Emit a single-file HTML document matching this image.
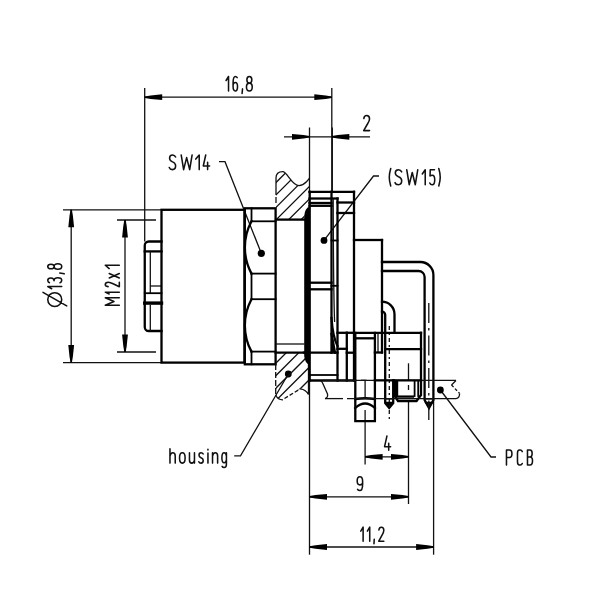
<!DOCTYPE html>
<html><head><meta charset="utf-8"><style>
html,body{margin:0;padding:0;background:#fff;}
svg{display:block;}
.t{stroke:#111;stroke-width:1.3;fill:none;}
.m{stroke:#000;stroke-width:1.8;fill:none;stroke-linecap:square;}
.k{stroke:#000;stroke-width:2.3;fill:none;stroke-linecap:square;}
.a{fill:#000;stroke:none;}
.tp{stroke:#111;stroke-width:1.55;fill:none;stroke-linecap:round;stroke-linejoin:round;}
</style></head><body>
<svg width="600" height="600" viewBox="0 0 600 600">
<rect width="600" height="600" fill="#fff"/>
<line class="t" x1="144.7" y1="88" x2="144.7" y2="241.5" />
<line class="t" x1="331.8" y1="88" x2="331.8" y2="192" />
<line class="t" x1="332.3" y1="127.5" x2="332.3" y2="192" />
<line class="t" x1="144.7" y1="97.2" x2="331.8" y2="97.2" />
<polygon class="a" points="144.70,97.90 150.70,98.90 162.20,100.10 162.20,94.30 150.70,95.50 144.70,96.50"/>
<polygon class="a" points="331.80,96.50 325.80,95.50 314.30,94.30 314.30,100.10 325.80,98.90 331.80,97.90"/>
<path class="tp" d="M 226.08,80.52 L 228.53,76.48 L 228.53,90.92 M 237.19,77.63 C 236.75,76.91 236.08,76.48 235.41,76.48 C 233.85,76.48 233.08,78.79 233.08,83.12 L 233.08,86.30 C 233.08,89.48 233.97,90.92 235.30,90.92 C 236.75,90.92 237.53,89.48 237.53,86.45 C 237.53,83.70 236.75,82.40 235.30,82.40 C 234.08,82.40 233.30,83.41 233.08,84.86 M 242.53,88.90 L 242.08,93.53 M 249.35,83.12 C 247.71,83.12 246.89,82.11 246.89,79.80 C 246.89,77.63 247.84,76.48 249.35,76.48 C 250.86,76.48 251.81,77.63 251.81,79.80 C 251.81,82.11 250.99,83.12 249.35,83.12 C 247.57,83.12 246.47,84.42 246.47,86.88 C 246.47,89.62 247.57,90.92 249.35,90.92 C 251.13,90.92 252.22,89.62 252.22,86.88 C 252.22,84.42 251.13,83.12 249.35,83.12"/>
<line class="t" x1="309.5" y1="127.5" x2="309.5" y2="192" />
<line class="t" x1="284" y1="136.8" x2="370" y2="136.8" />
<polygon class="a" points="309.50,136.10 303.50,135.10 292.00,133.90 292.00,139.70 303.50,138.50 309.50,137.50"/>
<polygon class="a" points="331.80,137.50 337.80,138.50 349.30,139.70 349.30,133.90 337.80,135.10 331.80,136.10"/>
<path class="tp" d="M 363.82,118.59 C 364.11,116.48 365.43,115.58 366.60,115.58 C 368.36,115.58 369.53,116.78 369.53,118.89 C 369.53,120.69 368.65,122.20 367.48,124.00 L 363.67,130.62 L 369.53,130.62"/>
<line class="t" x1="63" y1="209.8" x2="161.5" y2="209.8" />
<line class="t" x1="63" y1="362.6" x2="161.5" y2="362.6" />
<line class="t" x1="71.2" y1="209.8" x2="71.2" y2="362.6" />
<polygon class="a" points="70.50,209.80 69.50,215.80 68.30,227.30 74.10,227.30 72.90,215.80 71.90,209.80"/>
<polygon class="a" points="71.90,362.60 72.90,356.60 74.10,345.10 68.30,345.10 69.50,356.60 70.50,362.60"/>
<path class="tp" transform="rotate(-90)" d="M -299.60,47.77 C -295.68,47.77 -292.67,50.84 -292.67,54.75 C -292.67,58.66 -295.68,61.73 -299.60,61.73 C -303.52,61.73 -306.53,58.66 -306.53,54.75 C -306.53,50.84 -303.52,47.77 -299.60,47.77 Z M -288.73,51.68 L -286.57,47.77 L -286.57,61.73 M -282.73,49.45 C -282.23,48.33 -281.36,47.77 -280.25,47.77 C -278.76,47.77 -277.90,48.89 -277.90,50.84 C -277.90,52.94 -279.01,54.05 -280.75,54.05 C -278.76,54.05 -277.77,55.45 -277.77,57.82 C -277.77,60.33 -278.89,61.73 -280.37,61.73 C -281.61,61.73 -282.35,61.03 -282.73,60.05 M -273.07,59.77 L -273.83,64.24 M -266.50,54.19 C -268.06,54.19 -268.84,53.22 -268.84,50.98 C -268.84,48.89 -267.93,47.77 -266.50,47.77 C -265.07,47.77 -264.16,48.89 -264.16,50.98 C -264.16,53.22 -264.94,54.19 -266.50,54.19 C -268.19,54.19 -269.23,55.45 -269.23,57.82 C -269.23,60.47 -268.19,61.73 -266.50,61.73 C -264.81,61.73 -263.77,60.47 -263.77,57.82 C -263.77,55.45 -264.81,54.19 -266.50,54.19 M-305.9,66.7 L-292.3,43"/>
<line class="t" x1="117" y1="220" x2="156" y2="220" />
<line class="t" x1="117" y1="352" x2="156" y2="352" />
<line class="t" x1="125" y1="220" x2="125" y2="352" />
<polygon class="a" points="124.30,220.00 123.30,226.00 122.10,237.50 127.90,237.50 126.70,226.00 125.70,220.00"/>
<polygon class="a" points="125.70,352.00 126.70,346.00 127.90,334.50 122.10,334.50 123.30,346.00 124.30,352.00"/>
<path class="tp" transform="rotate(-90)" d="M -305.33,119.32 L -305.33,105.28 L -301.55,113.99 L -297.77,105.28 L -297.77,119.32 M -294.03,109.21 L -292.17,105.28 L -292.17,119.32 M -286.61,108.09 C -286.38,106.12 -285.36,105.28 -284.45,105.28 C -283.08,105.28 -282.17,106.40 -282.17,108.37 C -282.17,110.05 -282.86,111.46 -283.77,113.14 L -286.73,119.32 L -282.17,119.32 M -278.03,109.21 L -273.47,119.32 M -273.47,109.21 L -278.03,119.32 M -268.53,109.21 L -265.27,105.28 L -265.27,119.32"/>
<line class="t" x1="365.1" y1="410" x2="365.1" y2="464.4" />
<line class="t" x1="408.5" y1="363.3" x2="408.5" y2="380" />
<line class="t" x1="408.5" y1="385" x2="408.5" y2="390" />
<line class="t" x1="408.5" y1="401" x2="408.5" y2="504" />
<line class="t" x1="365.1" y1="456.8" x2="408.5" y2="456.8" />
<polygon class="a" points="365.10,457.50 371.10,458.50 382.60,459.70 382.60,453.90 371.10,455.10 365.10,456.10"/>
<polygon class="a" points="408.50,456.10 402.50,455.10 391.00,453.90 391.00,459.70 402.50,458.50 408.50,457.50"/>
<path class="tp" d="M 386.91,436.07 L 384.57,446.69 L 390.62,446.69 M 388.70,443.15 L 388.70,450.23"/>
<line class="t" x1="309.5" y1="380" x2="309.5" y2="554.7" />
<line class="t" x1="309.5" y1="496.8" x2="408.5" y2="496.8" />
<polygon class="a" points="309.50,497.50 315.50,498.50 327.00,499.70 327.00,493.90 315.50,495.10 309.50,496.10"/>
<polygon class="a" points="408.50,496.10 402.50,495.10 391.00,493.90 391.00,499.70 402.50,498.50 408.50,497.50"/>
<path class="tp" d="M 357.58,489.43 C 358.13,490.11 358.95,490.53 359.76,490.53 C 361.67,490.53 362.62,488.33 362.62,484.20 L 362.62,481.18 C 362.62,478.15 361.53,476.77 359.90,476.77 C 358.13,476.77 357.17,478.15 357.17,481.04 C 357.17,483.65 358.13,484.89 359.90,484.89 C 361.40,484.89 362.35,483.93 362.62,482.55"/>
<line class="t" x1="433.6" y1="398" x2="433.6" y2="554.7" />
<line class="t" x1="309.5" y1="547" x2="433.6" y2="547" />
<polygon class="a" points="309.50,547.70 315.50,548.70 327.00,549.90 327.00,544.10 315.50,545.30 309.50,546.30"/>
<polygon class="a" points="433.60,546.30 427.60,545.30 416.10,544.10 416.10,549.90 427.60,548.70 433.60,547.70"/>
<path class="tp" d="M 360.77,531.11 L 363.12,527.17 L 363.12,541.23 M 367.38,531.11 L 369.73,527.17 L 369.73,541.23 M 374.23,539.26 L 373.97,543.75 M 378.90,529.99 C 379.15,528.02 380.29,527.17 381.30,527.17 C 382.82,527.17 383.83,528.30 383.83,530.27 C 383.83,531.95 383.07,533.36 382.06,535.04 L 378.77,541.23 L 383.83,541.23"/>
<path class="t" d="M219,161.7 H225 L261.3,253.3" />
<circle cx="261.3" cy="253.3" r="3.6"/>
<path class="tp" d="M 175.62,157.03 C 175.02,155.71 173.96,154.97 172.60,154.97 C 170.79,154.97 169.58,156.00 169.58,158.20 C 169.58,160.25 170.94,161.13 172.60,161.86 C 174.41,162.59 175.62,163.47 175.62,165.82 C 175.62,168.31 174.26,169.62 172.45,169.62 C 170.94,169.62 169.73,168.89 169.28,167.57 M 181.18,154.97 L 183.62,169.62 L 186.65,157.61 L 189.68,169.62 L 192.12,154.97 M 195.78,159.08 L 199.22,154.97 L 199.22,169.62 M 205.73,154.97 L 203.28,165.96 L 209.62,165.96 M 207.60,162.30 L 207.60,169.62"/>
<path class="t" d="M379,176 H373.5 L324,240.4" />
<circle cx="324" cy="240.4" r="3.4"/>
<path class="tp" d="M 390.73,168.58 C 389.69,172.02 389.27,175.01 389.27,177.25 C 389.27,179.49 389.69,182.48 390.73,185.92 M 401.70,171.87 C 401.06,170.52 399.94,169.78 398.50,169.78 C 396.58,169.78 395.30,170.82 395.30,173.06 C 395.30,175.16 396.74,176.05 398.50,176.80 C 400.42,177.55 401.70,178.45 401.70,180.84 C 401.70,183.38 400.26,184.72 398.34,184.72 C 396.74,184.72 395.46,183.98 394.97,182.63 M 406.77,169.78 L 409.22,184.72 L 412.25,172.47 L 415.28,184.72 L 417.73,169.78 M 422.27,173.96 L 425.23,169.78 L 425.23,184.72 M 434.48,169.78 L 430.27,169.78 L 430.02,176.05 C 430.64,175.46 431.38,175.16 432.25,175.16 C 433.86,175.16 434.73,176.65 434.73,179.64 C 434.73,182.93 433.74,184.72 432.13,184.72 C 431.01,184.72 430.27,184.13 429.77,182.93 M 438.77,168.58 C 439.81,172.02 440.23,175.01 440.23,177.25 C 440.23,179.49 439.81,182.48 438.77,185.92"/>
<path class="t" d="M234.2,455.8 H240.5 L288.3,374" />
<circle cx="288.3" cy="374" r="3.4"/>
<path class="tp" d="M 169.97,448.77 L 169.97,463.12 M 169.97,455.95 C 170.53,453.80 171.49,452.79 172.74,452.79 C 174.40,452.79 175.22,453.94 175.22,455.95 L 175.22,463.12 M 182.32,452.79 C 184.15,452.79 185.12,454.51 185.12,457.96 C 185.12,461.40 184.15,463.12 182.32,463.12 C 180.50,463.12 179.53,461.40 179.53,457.96 C 179.53,454.51 180.50,452.79 182.32,452.79 Z M 189.47,452.79 L 189.47,459.97 C 189.47,461.98 190.26,463.12 191.84,463.12 C 193.16,463.12 193.95,462.26 194.47,460.54 M 194.47,452.79 L 194.47,463.12 M 203.10,453.94 C 202.73,453.22 201.99,452.79 201.00,452.79 C 199.76,452.79 199.02,453.65 199.02,455.23 C 199.02,456.81 200.01,457.38 201.00,457.82 C 202.24,458.25 203.22,458.82 203.22,460.54 C 203.22,462.26 202.24,463.12 201.00,463.12 C 199.89,463.12 199.15,462.55 198.78,461.69 M 207.95,453.08 L 207.95,463.12 M 207.95,449.35 L 207.95,449.92 M 212.53,452.79 L 212.53,463.12 M 212.53,455.95 C 213.06,453.80 214.00,452.79 215.21,452.79 C 216.82,452.79 217.62,453.94 217.62,455.95 L 217.62,463.12 M 226.42,452.79 L 226.42,464.27 C 226.42,466.57 225.59,467.57 224.15,467.57 C 223.19,467.57 222.47,467.14 222.11,466.43 M 226.42,455.95 C 226.07,453.80 225.23,452.79 224.15,452.79 C 222.71,452.79 221.88,454.23 221.88,457.82 C 221.88,461.40 222.71,462.84 224.15,462.84 C 225.23,462.84 226.07,461.83 226.42,459.97"/>
<path class="t" d="M440.4,390 L491,457 H496" />
<circle cx="440.4" cy="390" r="3.4"/>
<path class="tp" d="M 506.47,464.93 L 506.47,450.07 L 509.47,450.07 C 511.11,450.07 511.93,451.26 511.93,453.79 C 511.93,456.31 511.11,457.50 509.47,457.50 L 506.47,457.50 M 522.23,451.56 C 521.85,450.52 521.23,450.07 520.23,450.07 L 519.48,450.07 C 518.10,450.07 517.48,451.26 517.48,453.34 L 517.48,461.66 C 517.48,463.74 518.10,464.93 519.48,464.93 L 520.23,464.93 C 521.23,464.93 521.85,464.48 522.23,463.44 M 527.48,450.07 L 530.00,450.07 C 531.39,450.07 532.15,451.11 532.15,453.49 C 532.15,455.87 531.39,456.91 530.00,456.91 L 527.48,456.91 M 530.00,456.91 C 531.64,456.91 532.52,458.09 532.52,460.77 C 532.52,463.59 531.51,464.93 530.00,464.93 L 527.48,464.93 L 527.48,450.07"/>
<path class="k" d="M161.5,241.5 H148.75 A4,4 0 0 0 144.75,245.5 V327 A4,4 0 0 0 148.75,331 H161.5" />
<line class="k" x1="144.75" y1="251.4" x2="161.5" y2="251.4" />
<line class="t" x1="150.3" y1="251.4" x2="150.3" y2="293.2" />
<line class="t" x1="150.3" y1="286" x2="161.5" y2="286" />
<line class="m" x1="144.75" y1="293.2" x2="161.5" y2="293.2" />
<line class="k" x1="144.75" y1="303.1" x2="161.5" y2="303.1" style="stroke-width:3.4"/>
<line class="t" x1="150.3" y1="304.8" x2="150.3" y2="331" />
<rect class="k" x="161.5" y="209.8" width="83" height="152.8"/>
<rect class="k" x="244.8" y="208.3" width="30.8" height="156"/>
<line class="m" x1="251.5" y1="208.3" x2="251.5" y2="221.3" />
<line class="m" x1="251.5" y1="273.6" x2="251.5" y2="299.2" />
<line class="m" x1="251.5" y1="351.6" x2="251.5" y2="364.3" />
<line class="m" x1="251.5" y1="221.3" x2="275.6" y2="221.3" />
<line class="m" x1="251.5" y1="273.6" x2="275.6" y2="273.6" />
<line class="m" x1="251.5" y1="299.2" x2="275.6" y2="299.2" />
<line class="m" x1="251.5" y1="351.6" x2="275.6" y2="351.6" />
<path class="k" d="M251.5,221.3 A55,55 0 0 0 251.5,273.6" />
<path class="k" d="M251.5,299.2 A55,55 0 0 0 251.5,351.6" />
<clipPath id="cu"><path d="M276,219.6 V178 Q276,171.6 282.8,171.6 C287,171.6 292,185.6 299,185.6 C305,185.6 309.5,178 309.5,178 V206.5 Q304.3,208 304,219.6 Z"/></clipPath><clipPath id="cl"><path d="M275.7,352.7 H304.3 Q305,362 308.5,364.5 V394.5 Q306,389.5 300.4,388.8 L284.5,398.5 Q278,400 275.7,395 Z"/></clipPath>
<path class="t" d="M283.60,150 L3.60,430 M296.05,150 L16.05,430 M308.50,150 L28.50,430 M320.95,150 L40.95,430 M333.40,150 L53.40,430 M345.85,150 L65.85,430 M358.30,150 L78.30,430 M370.75,150 L90.75,430 M383.20,150 L103.20,430 M395.65,150 L115.65,430" clip-path="url(#cu)"/>
<path class="t" d="M464.00,150 L184.00,430 M476.50,150 L196.50,430 M489.00,150 L209.00,430 M501.50,150 L221.50,430 M514.00,150 L234.00,430 M526.50,150 L246.50,430 M539.00,150 L259.00,430 M551.50,150 L271.50,430" clip-path="url(#cl)"/>
<path class="t" d="M276,195 V178 Q276,171.6 282.8,171.6 C287,171.6 292,185.6 299,185.6 C305,185.6 309.5,178 309.5,178" />
<line class="t" x1="276" y1="197" x2="276" y2="203" />
<line class="k" x1="276" y1="219.6" x2="304" y2="219.6" />
<line class="k" x1="275.7" y1="352.7" x2="305" y2="352.7" />
<line class="t" x1="276" y1="344" x2="304.5" y2="344" />
<line class="t" x1="275.7" y1="364" x2="275.7" y2="395" stroke-dasharray="6,2"/>
<path class="t" d="M275.7,395 Q278,400 283,399.8" />
<path class="t" d="M284.5,398.5 L300.4,388.8" stroke-dasharray="4,2"/>
<path class="t" d="M300.4,388.8 Q306,389.5 308.5,394.5 V364" />
<path d="M309.6,206.5 Q304.8,208 304.2,216 V356 Q304.8,363 309.6,365 Z" fill="#000"/>
<line class="k" x1="309.5" y1="191.8" x2="354" y2="191.8" />
<line class="k" x1="309.7" y1="191.8" x2="309.7" y2="380.5" />
<line class="k" x1="354" y1="191.8" x2="354" y2="380.5" />
<line class="k" x1="309.5" y1="198.5" x2="337.5" y2="198.5" />
<line class="k" x1="337.5" y1="198.5" x2="337.5" y2="380.5" />
<line class="k" x1="309.5" y1="203" x2="331.5" y2="203" />
<line class="k" x1="309.5" y1="205.8" x2="331.5" y2="205.8" />
<line class="k" x1="331.5" y1="191.8" x2="331.5" y2="352.7" />
<path class="t" d="M333.2,199 Q333.4,290 334.6,322" />
<line class="k" x1="337.5" y1="202.5" x2="354" y2="202.5" />
<line class="k" x1="337.5" y1="213" x2="354" y2="213" />
<line class="k" x1="309.5" y1="282.7" x2="331.5" y2="282.7" />
<line class="k" x1="309.5" y1="289.3" x2="331.5" y2="289.3" />
<line class="m" x1="331.5" y1="240.5" x2="337.5" y2="240.5" />
<line class="m" x1="331.5" y1="285.8" x2="337.5" y2="285.8" />
<path class="k" d="M331.5,318 Q332.8,337 337.5,346" />
<path class="k" d="M331.5,334 Q333.5,344 335,352.7" />
<path d="M331.5,336 Q333.5,344 334.8,352.7 H331.5 Z" fill="#000"/>
<line class="k" x1="304" y1="352.7" x2="337.5" y2="352.7" />
<line class="k" x1="346.8" y1="352.7" x2="354" y2="352.7" />
<line class="m" x1="309.5" y1="375" x2="337.5" y2="375" />
<line class="k" x1="309.5" y1="380.5" x2="355" y2="380.5" />
<line class="k" x1="346.8" y1="332.7" x2="346.8" y2="380.5" />
<line class="k" x1="337.5" y1="332.8" x2="354" y2="332.8" />
<line class="k" x1="337.5" y1="348.8" x2="346.8" y2="348.8" />
<line class="k" x1="354" y1="240" x2="382" y2="240" />
<line class="k" x1="382" y1="240" x2="382" y2="352.5" />
<path class="k" d="M382,262 H420.5 A13,13 0 0 1 433.4,275 V400 L429,408 L424.6,400 V277 A6,6 0 0 0 418.6,271 H382" />
<line class="t" x1="424.6" y1="399" x2="433.4" y2="399" />
<polygon points="424.2,401.8 433.8,401.8 429,408.6" fill="#000"/>
<line class="t" x1="428.8" y1="303" x2="428.8" y2="420" stroke-dasharray="20,5,2.5,5"/>
<path class="k" d="M382,301.7 A12.5,12.5 0 0 1 394.5,314.2 V332.8" />
<path class="k" d="M382,311.6 A3.2,3.2 0 0 1 385.2,314.8 V403 L389.2,408 L393.2,403 V380.5" />
<line class="t" x1="385.2" y1="399" x2="393.2" y2="399" />
<polygon points="384.8,401.8 393.6,401.8 389.2,408.6" fill="#000"/>
<line class="t" x1="389.3" y1="326" x2="389.3" y2="420" stroke-dasharray="4,3,2,3"/>
<line class="k" x1="354" y1="332.8" x2="421" y2="332.8" />
<line class="k" x1="421" y1="332.8" x2="421" y2="380.5" />
<line class="k" x1="385.2" y1="349.2" x2="421" y2="349.2" />
<path class="k" d="M355.3,332.8 V421.2 H374.9 V332.8" />
<line class="k" x1="355.8" y1="338.3" x2="374.9" y2="338.3" />
<path class="k" d="M355.3,399 Q365,397.5 374.9,399" />
<path class="k" d="M355.3,408 Q365,399 374.9,408" />
<line class="t" x1="361" y1="380.3" x2="366.5" y2="380.3" />
<line class="t" x1="365.1" y1="380.3" x2="365.1" y2="397" />
<line class="t" x1="378" y1="332.8" x2="378" y2="352.5" />
<line class="k" x1="374.9" y1="352.5" x2="382" y2="352.5" />
<path class="k" d="M394,380.5 V395 L398,401 H416.5 L421,395 V380.5" />
<rect x="394" y="380.5" width="4.2" height="16.5" fill="#000"/>
<line class="k" x1="398" y1="396.6" x2="413" y2="396.6" />
<line class="m" x1="414.6" y1="381" x2="414.6" y2="396" />
<line class="m" x1="418.2" y1="381" x2="418.2" y2="396" />
<line class="t" x1="322.5" y1="380.3" x2="456" y2="380.3" />
<line class="t" x1="325" y1="398.6" x2="343" y2="398.6" />
<line class="t" x1="347" y1="398.6" x2="456" y2="398.6" />
<path class="t" d="M320.5,380.5 Q322,381.5 322.6,383 L327.5,394 Q328.3,397.5 325,398.6" />
<path class="t" d="M456,380.5 L451.5,385" />
<path class="t" d="M451.5,385 L459.5,393.3" stroke-dasharray="3,2"/>
<path class="t" d="M459.5,393.3 Q460,397.5 456,398.6" />
<line class="k" x1="374.9" y1="380.4" x2="421" y2="380.4" />
</svg></body></html>
